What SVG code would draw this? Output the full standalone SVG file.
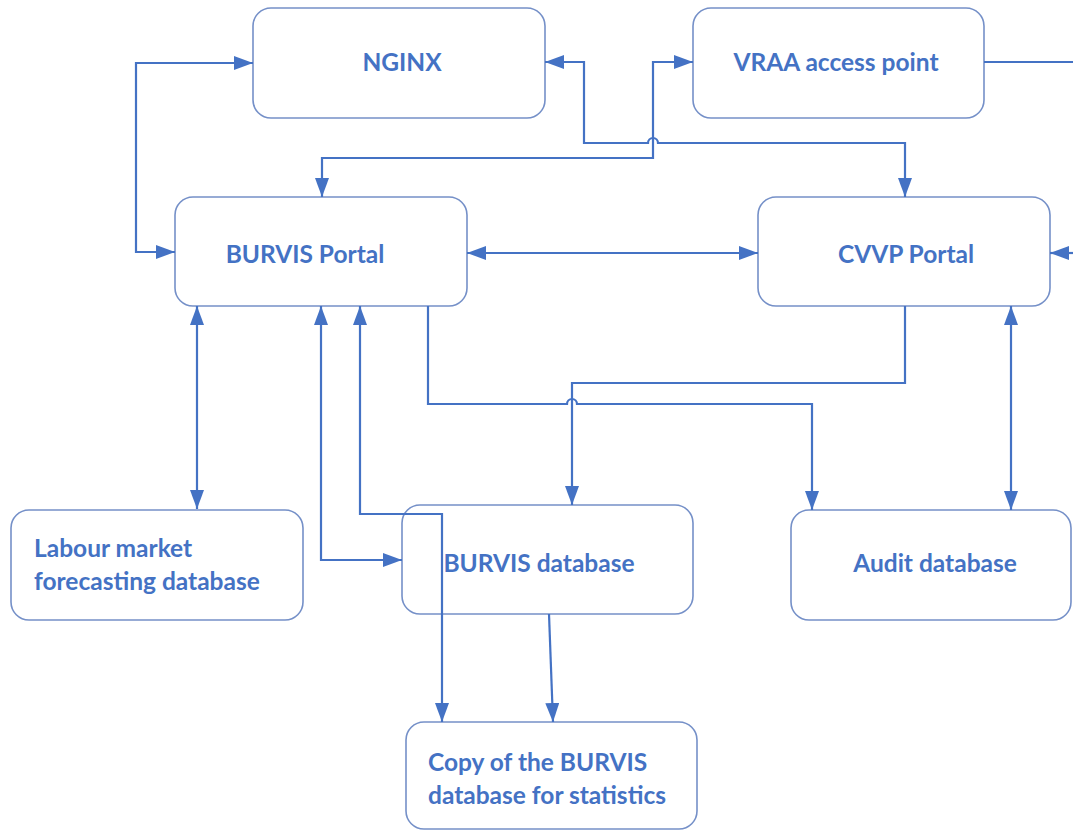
<svg xmlns="http://www.w3.org/2000/svg" width="1073" height="831" viewBox="0 0 1073 831">
<style>
.box{fill:#fff;stroke:#7590c8;stroke-width:1.6}
.lbl{font-family:Lato,"Open Sans","Liberation Sans",sans-serif;font-weight:bold;font-size:24.5px;fill:#4472c4}
.c{fill:none;stroke:#4472c4;stroke-width:2.2}
.both{marker-start:url(#ah);marker-end:url(#ah)}
.end{marker-end:url(#ah)}
</style>
<defs>
<marker id="ah" markerUnits="userSpaceOnUse" markerWidth="19" markerHeight="14" viewBox="0 0 19 14" refX="19" refY="7" orient="auto-start-reverse">
<path d="M0,0 L19,7 L0,14 z" fill="#4472c4"/>
</marker>
</defs>
<rect width="1073" height="831" fill="#fff"/>
<g id="nginx">
<rect class="box" x="253" y="8" width="292" height="110" rx="18"/>
<text class="lbl" x="402" y="71" text-anchor="middle">NGINX</text>
</g>
<g id="vraa">
<rect class="box" x="693" y="8" width="291" height="110" rx="18"/>
<text class="lbl" x="836" y="71" text-anchor="middle">VRAA access point</text>
</g>
<g id="burvis-portal">
<rect class="box" x="175" y="197" width="292" height="109" rx="18"/>
<text class="lbl" x="305" y="263" text-anchor="middle">BURVIS Portal</text>
</g>
<g id="cvvp-portal">
<rect class="box" x="758" y="197" width="292" height="109" rx="18"/>
<text class="lbl" x="906" y="263" text-anchor="middle">CVVP Portal</text>
</g>
<g id="labour-db">
<rect class="box" x="11" y="510" width="292" height="110" rx="18"/>
<text class="lbl" x="34" y="557">Labour market</text>
<text class="lbl" x="34" y="590">forecasting database</text>
</g>
<g id="burvis-db">
<rect class="box" x="402" y="505" width="291" height="109" rx="18"/>
<text class="lbl" x="539" y="572" text-anchor="middle">BURVIS database</text>
</g>
<g id="audit-db">
<rect class="box" x="791" y="510" width="280" height="110" rx="18"/>
<text class="lbl" x="935" y="572" text-anchor="middle">Audit database</text>
</g>
<g id="copy-db">
<rect class="box" x="406" y="722" width="291" height="107" rx="18"/>
<text class="lbl" x="428" y="771">Copy of the BURVIS</text>
<text class="lbl" x="428" y="804">database for statistics</text>
</g>
<g id="connectors">
<path class="c both" d="M253,63 H136 V252 H175"/>
<path class="c both" d="M545,62 H584 V143 H648 a5,5 0 0 1 10,0 H905 V197"/>
<path class="c both" d="M322,197 V158 H653 V62 H693"/>
<path class="c" d="M984,62 H1073"/>
<path class="c end" d="M1073,253 H1050"/>
<path class="c both" d="M467,253 H758"/>
<path class="c both" d="M197,306 V509"/>
<path class="c both" d="M321,306 V560 H402"/>
<path class="c both" d="M360,306 V514 H442 V722"/>
<path class="c end" d="M428,306 V404 H567 a5,5 0 0 1 10,0 H812 V510"/>
<path class="c end" d="M905,306 V383 H572 V505"/>
<path class="c both" d="M1011,306 V510"/>
<path class="c end" d="M549,614 L553,722"/>
</g>
</svg>
